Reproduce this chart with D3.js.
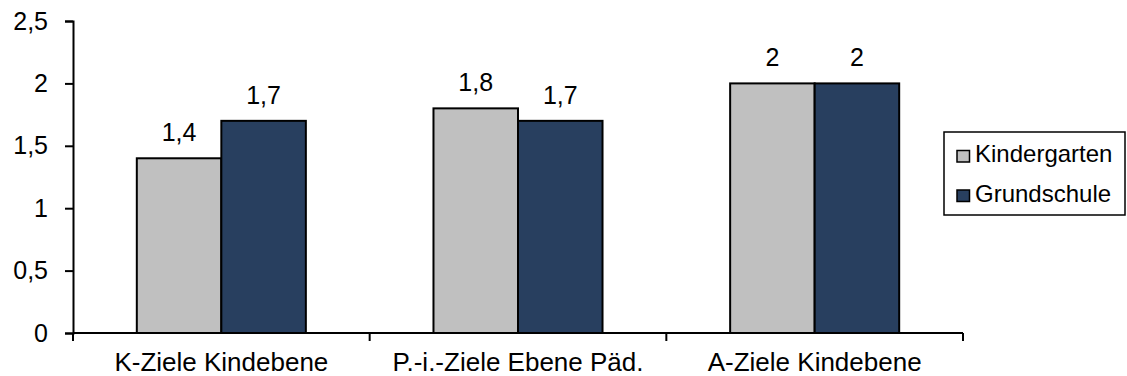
<!DOCTYPE html>
<html>
<head>
<meta charset="utf-8">
<script src="https://cdn.jsdelivr.net/npm/d3@7"></script>
<style>
  html, body { margin: 0; padding: 0; background: #fff; }
  svg { display: block; }
  text { font-family: "Liberation Sans", Arial, sans-serif; fill: #000; }
</style>
</head>
<body>
<svg id="chart" width="1127" height="376"></svg>
<script>
const categories = ["K-Ziele Kindebene", "P.-i.-Ziele Ebene Päd.", "A-Ziele Kindebene"];
const seriesNames = ["Kindergarten", "Grundschule"];
const kindergarten = [1.4, 1.8, 2];
const grundschule = [1.7, 1.7, 2];
const valueLabels = [["1,4", "1,8", "2"], ["1,7", "1,7", "2"]];
const yTicks = [0, 0.5, 1, 1.5, 2, 2.5];
const yTickLabels = ["0", "0,5", "1", "1,5", "2", "2,5"];
const colors = ["#c0c0c0", "#283f5f"];

const svg = d3.select("#chart");
const W = 1127, H = 376;
const margin = { left: 73, right: W - 963, top: 21, bottom: H - 333 };
const fontFamily = "Liberation Sans, Arial, sans-serif";

const x = d3.scaleBand().domain(categories).range([margin.left, W - margin.right]).paddingInner(0).paddingOuter(0);
const y = d3.scaleLinear().domain([0, 2.5]).range([H - margin.bottom, margin.top]);

// two bars per category with a gap of ~150% of the bar width
const barW = x.bandwidth() / (2 + 1.51);
const series = [kindergarten, grundschule];

const g = svg.append("g");
series.forEach((vals, si) => {
  g.selectAll(".bar" + si)
    .data(vals)
    .enter().append("rect")
    .attr("x", (d, i) => x(categories[i]) + x.bandwidth() / 2 - barW + si * barW)
    .attr("y", d => y(d))
    .attr("width", barW)
    .attr("height", d => y(0) - y(d))
    .attr("fill", colors[si])
    .attr("stroke", "#000")
    .attr("stroke-width", 2);

  g.selectAll(".lbl" + si)
    .data(vals)
    .enter().append("text")
    .attr("x", (d, i) => x(categories[i]) + x.bandwidth() / 2 - barW / 2 + si * barW)
    .attr("y", d => y(d) - 17)
    .attr("text-anchor", "middle")
    .attr("font-size", 25)
    .text((d, i) => valueLabels[si][i]);
});

// y axis
const yAxis = d3.axisLeft(y).tickValues(yTicks).tickFormat((d, i) => yTickLabels[i])
  .tickSizeOuter(0).tickSize(8).tickPadding(17);
const ya = svg.append("g").attr("transform", `translate(${margin.left},0)`).call(yAxis);
ya.select(".domain").attr("stroke", "#000").attr("stroke-width", 2);
ya.selectAll(".tick line").attr("stroke", "#000").attr("stroke-width", 2);
ya.selectAll(".tick text").attr("font-size", 25).attr("font-family", fontFamily).attr("fill", "#000");

// x axis with boundary ticks between categories
const xAxis = d3.axisBottom(x).tickSize(0).tickPadding(20);
const xa = svg.append("g").attr("transform", `translate(0,${y(0)})`).call(xAxis);
xa.select(".domain").attr("d", `M${margin.left},0H${W - margin.right}`).attr("stroke", "#000").attr("stroke-width", 2);
xa.selectAll(".tick text").attr("font-size", 26).attr("font-family", fontFamily).attr("fill", "#000");
const bounds = categories.map(c => x(c)).concat([x(categories[categories.length - 1]) + x.bandwidth()]);
xa.selectAll(".bound").data(bounds).enter().append("line")
  .attr("x1", d => d).attr("x2", d => d).attr("y1", 0).attr("y2", 8)
  .attr("stroke", "#000").attr("stroke-width", 2);

// legend
const lg = svg.append("g").attr("transform", "translate(944,132)");
lg.append("rect").attr("width", 181).attr("height", 83).attr("fill", "#fff").attr("stroke", "#000").attr("stroke-width", 1.5);
seriesNames.forEach((name, i) => {
  const row = lg.append("g").attr("transform", `translate(13,${30 + i * 39.5})`);
  row.append("rect").attr("x", 0).attr("y", -11.5).attr("width", 12.5).attr("height", 11.5)
    .attr("fill", colors[i]).attr("stroke", "#000").attr("stroke-width", 1.5);
  row.append("text").attr("x", 18).attr("y", 0).attr("font-size", 24).text(name);
});
</script>
</body>
</html>
